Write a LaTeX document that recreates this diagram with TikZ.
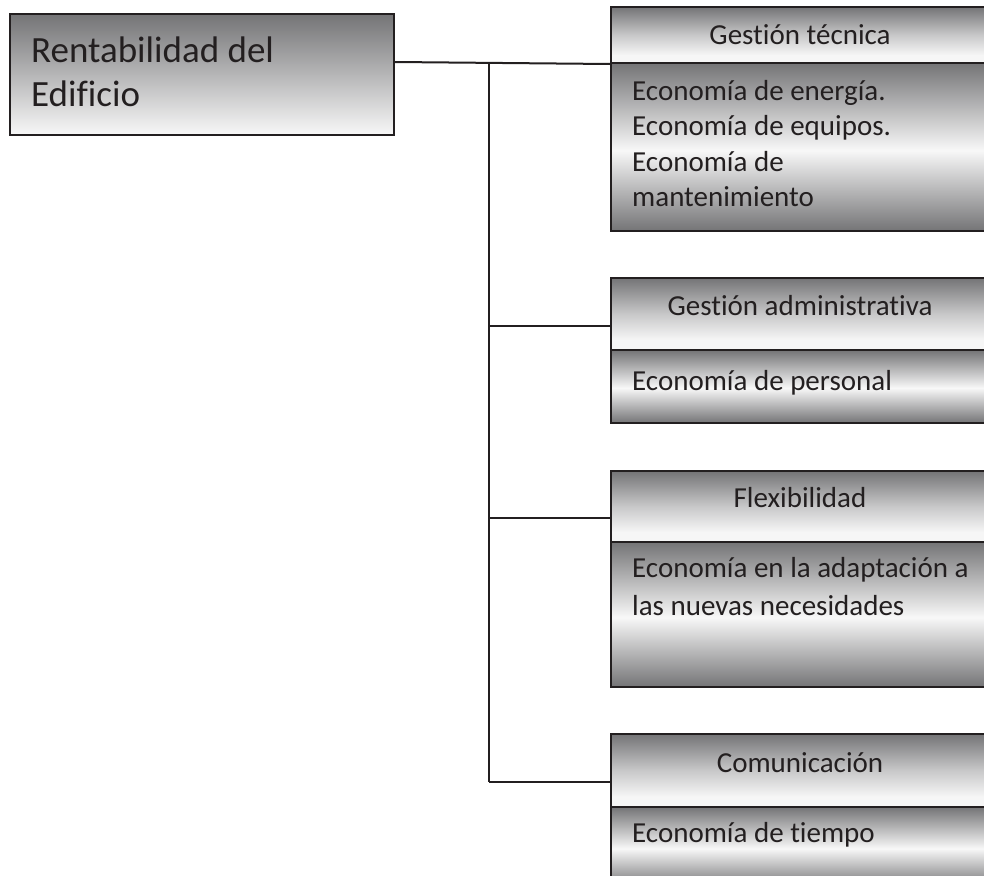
\documentclass[tikz,border=0pt]{standalone}
\usepackage{fontspec}
\setmainfont{Carlito}[Ligatures=NoCommon]
\definecolor{ink}{HTML}{231F20}
\definecolor{shdark}{HTML}{747476}
\definecolor{shmid}{HTML}{C8C8C9}
\definecolor{shlight}{HTML}{F6F6F6}
\definecolor{shwhite}{HTML}{F8F8F8}
\pgfdeclareverticalshading{rootshade}{100bp}{color(0bp)=(shwhite); color(25bp)=(shwhite); color(75bp)=(shdark); color(100bp)=(shdark)}
\pgfdeclareverticalshading{hdrshade}{100bp}{color(0bp)=(shlight); color(25bp)=(shlight); color(32bp)=(shlight); color(50bp)=(shmid); color(75bp)=(shdark); color(100bp)=(shdark)}
\pgfdeclareverticalshading{bodyshade}{100bp}{color(0bp)=(shdark); color(25bp)=(shdark); color(49bp)=(shwhite); color(75bp)=(shdark); color(100bp)=(shdark)}
\newcommand{\mystrut}{\rule{0pt}{1em}}
\begin{document}
\begin{tikzpicture}[x=1pt,y=-1pt,
  box/.style={draw=ink, line width=2pt, inner sep=0pt, anchor=north west, minimum width=385pt},
  hdrbox/.style={box, shading=hdrshade},
  bodybox/.style={box, shading=bodyshade},
  htext/.style={anchor=base, inner sep=0pt, text=ink, font=\fontsize{29}{35.5}\selectfont},
  btext/.style={anchor=north west, inner sep=0pt, align=left, text=ink, font=\fontsize{29}{35.5}\selectfont},
  link/.style={draw=ink, line width=2pt}]
\useasboundingbox (0,0) rectangle (984,875);
% root
\node[box, shading=rootshade, minimum width=384pt, minimum height=121pt] (root) at (9,13) {};
\node[anchor=north west, inner sep=0pt, align=left, text=ink, font=\fontsize{37}{44}\selectfont] (roottxt) at (31,25) {\mystrut Rentabilidad del\\Edificio};
% box 1
\node[hdrbox, minimum height=56pt] (h1) at (610,6) {};
\node[bodybox, minimum height=168pt] (b1) at (610,62) {};
% box 2
\node[hdrbox, minimum height=72pt] (h2) at (610,277) {};
\node[bodybox, minimum height=73pt] (b2) at (610,349) {};
% box 3
\node[hdrbox, minimum height=71pt] (h3) at (610,470) {};
\node[bodybox, minimum height=145pt] (b3) at (610,541) {};
% box 4
\node[hdrbox, minimum height=73pt] (h4) at (610,733) {};
\node[bodybox, minimum height=80pt] (b4) at (610,806) {};
% texts
\node[htext] (t1) at (800,45) {Gestión técnica};
\node[btext] (e1) at (632,71) {\mystrut Economía de energía.\\Economía de equipos.\\Economía de\\mantenimiento};
\node[htext] (t2) at (800,315) {Gestión administrativa};
\node[btext] (e2) at (632,361) {\mystrut Economía de personal};
\node[htext] (t3) at (800,507) {Flexibilidad};
\node[btext, font=\fontsize{29}{38}\selectfont] (e3) at (632,548) {\mystrut Economía en la adaptación a\\las nuevas necesidades};
\node[htext] (t4) at (800,772) {Comunicación};
\node[btext] (e4) at (632,813) {\mystrut Economía de tiempo};
% connectors
\coordinate (j1) at (489,62);
\coordinate (j2) at (489,326);
\coordinate (j3) at (489,518);
\coordinate (j4) at (489,782);
\draw[link] (root.east |- j1) -- (h1.south west);
\draw[link] (j1) -- (j4);
\draw[link] (j2) -- (j2 -| h2.west);
\draw[link] (j3) -- (j3 -| h3.west);
\draw[link] (j4) -- (j4 -| h4.west);
\end{tikzpicture}
\end{document}
